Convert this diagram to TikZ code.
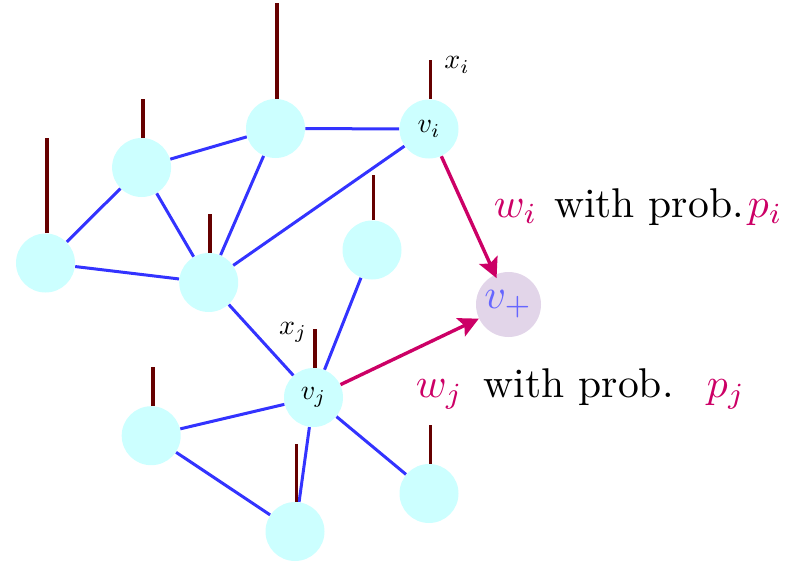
\documentclass[tikz,border=0pt]{standalone}
\usepackage{xcolor}
\usepackage{tikz}
\usetikzlibrary{arrows.meta}
\definecolor{clrNode}{RGB}{204,255,255}
\definecolor{clrStick}{RGB}{102,0,0}
\definecolor{clrEdge}{RGB}{51,51,255}
\definecolor{clrArr}{RGB}{204,0,102}
\definecolor{clrPlus}{RGB}{226,213,233}
\definecolor{clrPlusTxt}{RGB}{102,102,255}

\begin{document}
\begin{tikzpicture}[x=0.5pt,y=-0.5pt,
  vtx/.style={circle,fill=clrNode,minimum size=29.5pt,inner sep=0pt},
  edge/.style={draw=clrEdge,line width=1.5pt},
  stick/.style={draw=clrStick,line width=1.8pt},
  pick/.style={draw=clrArr,line width=1.7pt,-{Stealth[length=10pt,width=10pt,inset=2pt]}}]
  \useasboundingbox (0,0) rectangle (794,562);

  % --- vertices ---
  \foreach \n/\x/\y/\lab in {%
    a/45.5/263/{}, b/141.6/167.5/{}, c/275.5/128.5/{}, vi/429/129/{$v_i$},
    e/208.7/282.5/{}, f/372/250/{}, vj/313.5/397.5/{$v_j$},
    h/151.2/435.7/{}, k/295/531.5/{}, j/429/493.5/{}}{
      \node[vtx] (\n) at (\x,\y) {\scalebox{1.4}{\lab}};
  }
  \node[circle,fill=clrPlus,minimum size=32.5pt,inner sep=0pt,
        text=clrPlusTxt] (vplus) at (508.5,304.5) {\scalebox{2.1}{$v_+$}};

  % --- graph edges ---
  \foreach \s/\t in {a/b, a/e, b/c, b/e, c/vi, c/e, vi/e, e/vj, f/vj,
                     vj/h, vj/k, vj/j, h/k}{
      \draw[edge] (\s) -- (\t);
  }

  % --- features ---
  \foreach \n/\len in {a/95, b/39, c/96, vi/39, e/39, f/45, vj/39, h/39, k/58, j/39}{
      \draw[stick] ([xshift=0.75pt]\n.north) -- ++(0,-\len);
  }
  \node[scale=1.4] (xi) at (457,65) {$x_i$};
  \node[scale=1.4] (xj) at (293,332) {$x_j$};

  % --- links to v+ ---
  \draw[pick,shorten >=-2pt] (vi) -- (vplus);
  \draw[pick] (vj) -- (vplus);
  \node[anchor=base west,scale=2.08,inner sep=0pt] (wi) at (493,217)
    {\textcolor{clrArr}{$w_i$}\hspace{4pt}with prob.\hspace{1pt}\textcolor{clrArr}{$p_i$}};
  \node[anchor=base west,scale=2.08,inner sep=0pt] (wj) at (415,397)
    {\textcolor{clrArr}{$w_j$}\hspace{5pt}with prob.\hspace{8pt}\textcolor{clrArr}{$p_j$}};
\end{tikzpicture}
\end{document}
